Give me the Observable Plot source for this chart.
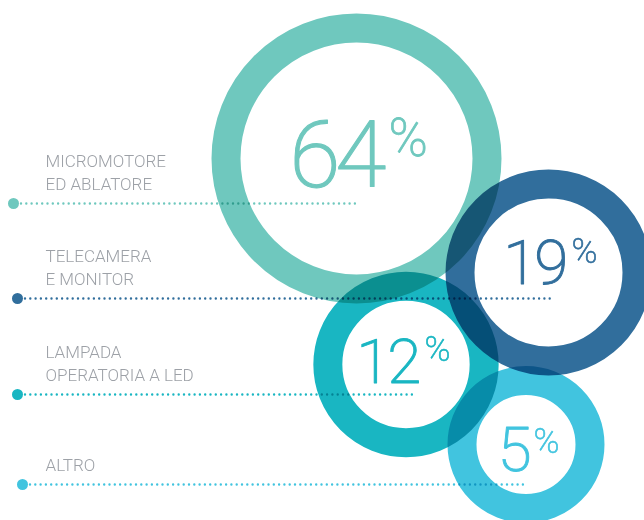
<!DOCTYPE html>
<html><head><meta charset="utf-8">
<script src="https://cdn.jsdelivr.net/npm/d3@7"></script>
<script src="https://cdn.jsdelivr.net/npm/@observablehq/plot@0.6"></script>
<style>
html,body{margin:0;padding:0;background:#fff;}
#chart svg{display:block;}
#chart svg circle, #chart svg line{mix-blend-mode:multiply;}
#chart g[font-size="93"] text{letter-spacing:-5px;}
#chart g[font-size="62"] text{letter-spacing:-3px;}
</style></head><body><div id="chart"></div>
<script>
// ---- data ----
const categories = ["MICROMOTORE\nED ABLATORE", "TELECAMERA\nE MONITOR", "LAMPADA\nOPERATORIA A LED", "ALTRO"];
const values = [64, 19, 12, 5];
const valueLabels = ["64", "19", "12", "5"];

// ---- styles ----
const colors = ["#6fc8be", "#316e9c", "#19b6c2", "#41c4df"];
const labelColor = "#9da1a7";

// ---- layout (chart units) ----
const ringCx = [356, 548, 405.5, 525.5];
const ringCy = [158, 272, 364, 444];
const leaderY = [203, 298, 394, 484];
const leaderDotX = [13, 17, 17, 22];
const leaderEndOff = [0, 2, 7, 0];
const numOffX = [25, 17, 12.5, 2.5];
const numOffY = [28, 11, 18, 26];
const pctOffX = [32, 23, 18.5, 7.5];
const pctOffY = [-3, -10, -4, 8];

const data = categories.map((category, i) => ({
  category,
  value: values[i],
  label: valueLabels[i],
  cx: ringCx[i],
  cy: ringCy[i],
  ly: leaderY[i],
  dx0: leaderDotX[i],
  lx1: leaderDotX[i] + 8,
  lx2: ringCx[i] + leaderEndOff[i],
  tx: 45,
  ty: leaderY[i] - 14,
  nx: ringCx[i] + numOffX[i],
  ny: ringCy[i] + numOffY[i],
  px: ringCx[i] + pctOffX[i],
  py: ringCy[i] + pctOffY[i]
}));
const big = data.slice(0, 1);
const small = data.slice(1);

const numFont = "Roboto, 'Open Sans', sans-serif";

const chart = Plot.plot({
  width: 644,
  height: 520,
  margin: 0,
  style: {background: "#fff"},
  x: {domain: [0, 644], range: [0, 644], axis: null},
  y: {domain: [0, 520], range: [0, 520], axis: null},
  r: {type: "sqrt", domain: [0, 64], range: [38.2, 130.5]},
  color: {domain: categories, range: colors},
  marks: [
    Plot.dot(data, {x: "cx", y: "cy", r: "value", stroke: "category", strokeWidth: 29, fill: "none", mixBlendMode: "multiply"}),
    Plot.ruleY(data, {y: "ly", x1: "lx1", x2: "lx2", stroke: "category", strokeWidth: 2.4, strokeDasharray: "0 5.3", strokeLinecap: "round", mixBlendMode: "multiply"}),
    Plot.dot(data, {x: "dx0", y: "ly", r: 5.5, fill: "category", stroke: null}),
    Plot.text(data, {x: "tx", y: "ty", text: "category", textAnchor: "start", lineAnchor: "bottom", lineHeight: 1.3, fill: labelColor, fontSize: 17, fontFamily: "Roboto, sans-serif", fontWeight: 300}),
    Plot.text(big, {x: "nx", y: "ny", text: "label", textAnchor: "end", lineAnchor: "bottom", fill: "category", stroke: "category", strokeWidth: 1.1, fontSize: 93, fontFamily: numFont, fontWeight: 200}),
    Plot.text(big, {x: "px", y: "py", text: () => "%", textAnchor: "start", lineAnchor: "bottom", fill: "category", stroke: "category", strokeWidth: 0.8, fontSize: 53, fontFamily: numFont, fontWeight: 200}),
    Plot.text(small, {x: "nx", y: "ny", text: "label", textAnchor: "end", lineAnchor: "bottom", fill: "category", stroke: "category", strokeWidth: 0.9, fontSize: 62, fontFamily: numFont, fontWeight: 200}),
    Plot.text(small, {x: "px", y: "py", text: () => "%", textAnchor: "start", lineAnchor: "bottom", fill: "category", stroke: "category", strokeWidth: 0.6, fontSize: 35, fontFamily: numFont, fontWeight: 200})
  ]
});
document.getElementById("chart").appendChild(chart);
</script>
</body></html>
